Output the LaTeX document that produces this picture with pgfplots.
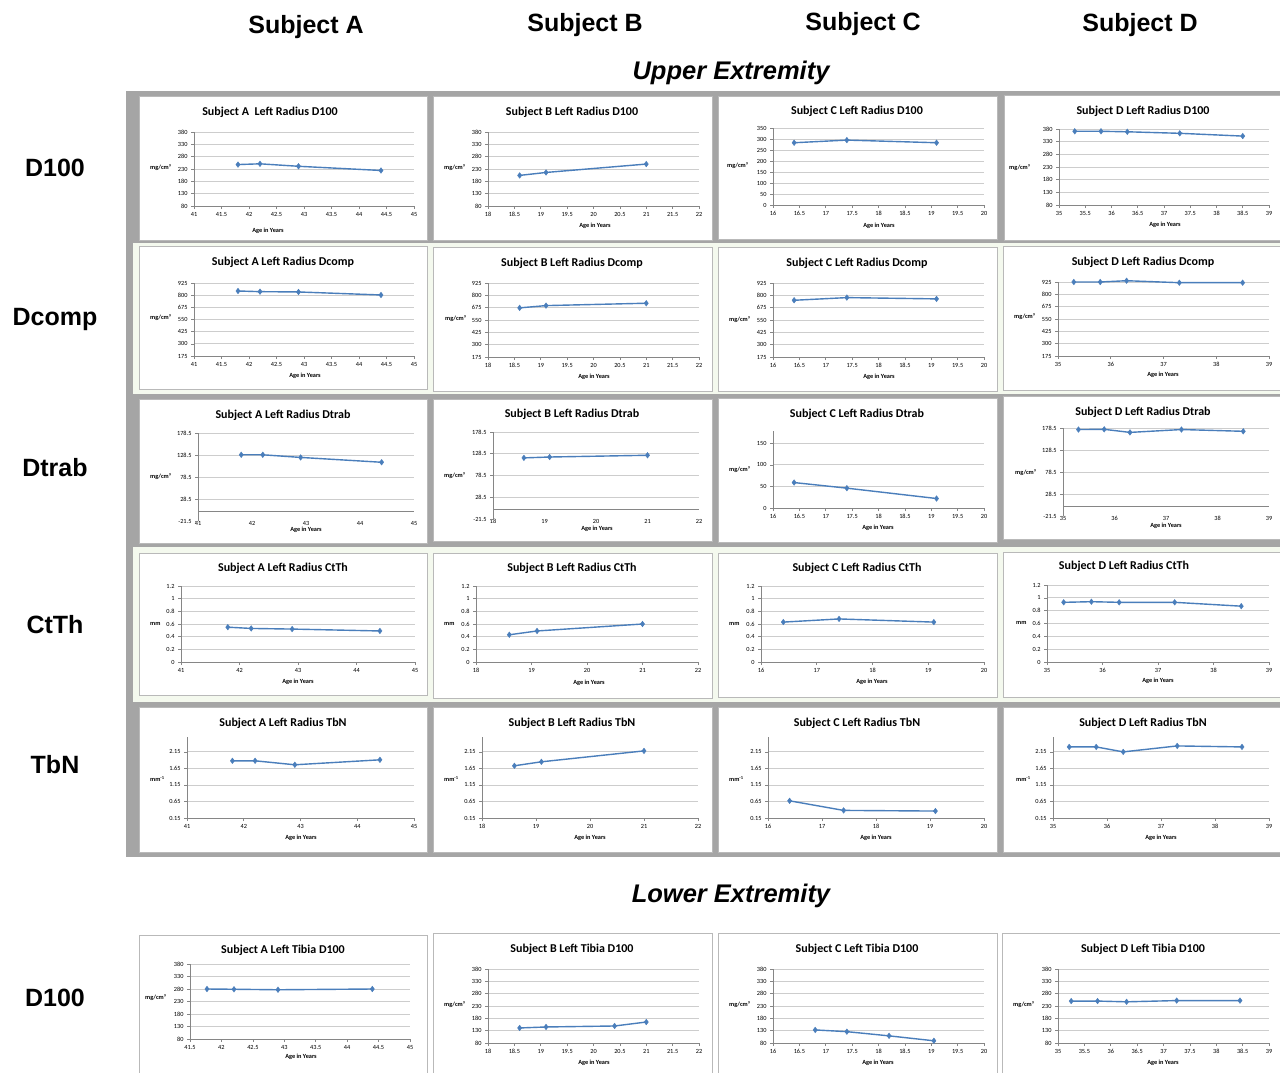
\documentclass[border=0pt]{standalone}
\usepackage{fontspec}
\setmainfont{Liberation Sans}
\newfontfamily\calfont{Carlito}
\usepackage{pgfplots}
\pgfplotsset{compat=1.18}

\definecolor{lineblue}{RGB}{74,126,187}
\definecolor{axisgray}{RGB}{134,134,134}
\definecolor{gridgray}{RGB}{205,205,205}
\definecolor{bggray}{RGB}{165,165,165}
\definecolor{bggreen}{RGB}{244,249,238}
\definecolor{boxgray}{RGB}{185,185,185}

\pgfplotsset{
  pan/.style={
    scale only axis, anchor=south west, clip=false,
    axis lines=left,
    axis line style={-, draw=axisgray, line width=0.8pt},
    ymajorgrids, major grid style={draw=gridgray, line width=0.8pt},
    tick align=outside, major tick length=3pt,
    tick style={draw=axisgray, line width=0.6pt},
    ticklabel style={font=\calfont\fontsize{6.3}{7}\selectfont},
    /pgf/number format/assume math mode=true,
    /pgf/number format/fixed,
    /pgf/number format/precision=2,
    scaled ticks=false,
  },
  dat/.style={lineblue, line width=1.4pt, mark=diamond*, mark size=2.8pt,
    mark options={fill=lineblue, draw=lineblue, line width=0.4pt}},
  yd100/.style={ymin=80,ymax=380,ytick={80,130,180,230,280,330,380}},
  ydcomp/.style={ymin=175,ymax=925,ytick={175,300,425,550,675,800,925}},
  ydtrab/.style={ymin=-21.5,ymax=178.5,ytick={28.5,78.5,128.5,178.5},
    extra y ticks={-21.5}, extra y tick style={grid=none},
    x axis line style={draw=none}, xtick style={draw=none},
    x tick label style={yshift=6pt}},
  yctth/.style={ymin=0,ymax=1.2,ytick={0,0.2,0.4,0.6,0.8,1,1.2}},
  ytbn/.style={ymin=0.15,ymax=2.6,ytick={0.15,0.65,1.15,1.65,2.15}},
  xAh/.style={xmin=41,xmax=45,xtick={41,41.5,42,42.5,43,43.5,44,44.5,45}},
  xBh/.style={xmin=18,xmax=22,xtick={18,18.5,19,19.5,20,20.5,21,21.5,22}},
  xCh/.style={xmin=16,xmax=20,xtick={16,16.5,17,17.5,18,18.5,19,19.5,20}},
  xDh/.style={xmin=35,xmax=39,xtick={35,35.5,36,36.5,37,37.5,38,38.5,39}},
  xA1/.style={xmin=41,xmax=45,xtick={41,42,43,44,45}},
  xB1/.style={xmin=18,xmax=22,xtick={18,19,20,21,22}},
  xC1/.style={xmin=16,xmax=20,xtick={16,17,18,19,20}},
  xD1/.style={xmin=35,xmax=39,xtick={35,36,37,38,39}},
}

% #1 left #2 top #3 right #4 bottom (pixels), #5 options, #6 data, #7 extra plots
\newcommand{\pax}[7]{%
  \pgfmathsetmacro\pw{#3-#1}%
  \pgfmathsetmacro\ph{#4-#2}%
  \begin{axis}[pan, at={(#1pt,-#4pt)}, width=\pw pt, height=\ph pt, #5]
  #7
  \addplot[dat] coordinates {#6};
  \end{axis}}
\newcommand{\pbox}[4]{\draw[boxgray, fill=white, line width=1pt] (#1pt,-#2pt) rectangle (#3pt,-#4pt);}
\newcommand{\ttl}[3]{\node[font=\calfont\bfseries\fontsize{12}{14}\selectfont] at (#1pt,-#2pt) {#3};}
\newcommand{\ylab}[3]{\node[anchor=west, inner sep=0pt, font=\calfont\bfseries\fontsize{6.3}{7}\selectfont] at (#1pt,-#2pt) {#3};}
\newcommand{\xlab}[2]{\node[inner sep=0pt, font=\calfont\bfseries\fontsize{6.3}{7}\selectfont] at (#1pt,-#2pt) {Age in Years};}
\newcommand{\zl}[2]{\addplot[axisgray, line width=0.8pt, forget plot, mark=none] coordinates {(#1,0) (#2,0)};}

\begin{document}
\begin{tikzpicture}
\useasboundingbox (0pt,0pt) rectangle (1280pt,-1073pt);
\fill[white] (0pt,0pt) rectangle (1280pt,-1073pt);
% backgrounds
\fill[bggray] (126pt,-91pt) rectangle (1280pt,-857pt);
\fill[bggreen] (133pt,-243pt) rectangle (1280pt,-394pt);
\fill[bggreen] (133pt,-547pt) rectangle (1280pt,-702pt);

% headers
\node[font=\bfseries\fontsize{25}{30}\selectfont] at (306pt,-27pt) {Subject A};
\node[font=\bfseries\fontsize{25}{30}\selectfont] at (585pt,-25pt) {Subject B};
\node[font=\bfseries\fontsize{25}{30}\selectfont] at (863pt,-24pt) {Subject C};
\node[font=\bfseries\fontsize{25}{30}\selectfont] at (1140pt,-25pt) {Subject D};
\node[font=\bfseries\itshape\fontsize{25.5}{30}\selectfont] at (731pt,-73pt) {Upper Extremity};
\node[font=\bfseries\itshape\fontsize{25.5}{30}\selectfont] at (731pt,-896pt) {Lower Extremity};
\node[font=\bfseries\fontsize{25}{30}\selectfont] at (55pt,-168pt) {D100};
\node[font=\bfseries\fontsize{25}{30}\selectfont] at (55pt,-319pt) {Dcomp};
\node[font=\bfseries\fontsize{25}{30}\selectfont] at (55pt,-468pt) {Dtrab};
\node[font=\bfseries\fontsize{25}{30}\selectfont] at (55pt,-625pt) {CtTh};
\node[font=\bfseries\fontsize{25}{30}\selectfont] at (55pt,-765pt) {TbN};
\node[font=\bfseries\fontsize{25}{30}\selectfont] at (55pt,-998pt) {D100};

% ---------- Row 1: D100 ----------
\pbox{139}{96}{427}{240}\pbox{433}{96}{712}{240}\pbox{718}{96}{997}{239}\pbox{1004}{95}{1282}{240}
\ttl{270}{112}{Subject A\ \ Left Radius D100}
\ttl{572}{112}{Subject B Left Radius D100}
\ttl{857}{111}{Subject C Left Radius D100}
\ttl{1143}{111}{Subject D Left Radius D100}
\pax{194}{132}{414}{206}{xAh,yd100}{(41.8,248) (42.2,251) (42.9,241) (44.4,224)}{}
\pax{488}{132}{699}{206}{xBh,yd100}{(18.6,204) (19.1,216) (21,250)}{}
\pax{773}{128}{984}{205}{xCh,ymin=0,ymax=350,ytick={0,50,100,150,200,250,300,350}}{(16.4,283) (17.4,295) (19.1,283)}{}
\pax{1059}{129}{1269}{205}{xDh,yd100}{(35.3,371) (35.8,371) (36.3,369) (37.3,363) (38.5,352)}{}
\ylab{150}{168}{mg/cm³}\ylab{444}{168}{mg/cm³}\ylab{727}{166}{mg/cm³}\ylab{1009}{168}{mg/cm³}
\xlab{268}{231}\xlab{595}{226}\xlab{879}{226}\xlab{1165}{225}

% ---------- Row 2: Dcomp ----------
\pbox{139}{246}{427}{389}\pbox{433}{247}{712}{391}\pbox{718}{247}{997}{391}\pbox{1003}{246}{1282}{390}
\ttl{283}{262}{Subject A Left Radius Dcomp}
\ttl{572}{263}{Subject B Left Radius Dcomp}
\ttl{857}{263}{Subject C Left Radius Dcomp}
\ttl{1143}{262}{Subject D Left Radius Dcomp}
\pax{194}{283}{414}{356}{xAh,ydcomp}{(41.8,843) (42.2,836) (42.9,833) (44.4,802)}{}
\pax{488}{283}{699}{357}{xBh,ydcomp}{(18.6,673) (19.1,696) (21,720)}{}
\pax{773}{283}{984}{357}{xCh,ydcomp}{(16.4,750) (17.4,777) (19.1,764)}{}
\pax{1058}{282}{1269}{356}{xD1,ydcomp}{(35.3,925) (35.8,925) (36.3,938) (37.3,918) (38.5,918)}{}
\ylab{150}{318}{mg/cm³}\ylab{445}{319}{mg/cm³}\ylab{729}{320}{mg/cm³}\ylab{1014}{317}{mg/cm³}
\xlab{305}{376}\xlab{594}{377}\xlab{879}{377}\xlab{1163}{375}

% ---------- Row 3: Dtrab ----------
\pbox{139}{399}{427}{543}\pbox{433}{399}{712}{541}\pbox{718}{398}{997}{542}\pbox{1003}{396}{1282}{539}
\ttl{283}{415}{Subject A Left Radius Dtrab}
\ttl{572}{414}{Subject B Left Radius Dtrab}
\ttl{857}{414}{Subject C Left Radius Dtrab}
\ttl{1143}{412}{Subject D Left Radius Dtrab}
\pax{198}{433}{414}{521}{xA1,ydtrab}{(41.8,129) (42.2,129) (42.9,123) (44.4,112)}{\zl{41}{45}}
\pax{493}{432}{699}{519}{xB1,ydtrab}{(18.6,119) (19.1,121) (21,125)}{\zl{18}{22}}
\pax{773}{431}{984}{508}{xCh,ymin=0,ymax=178.5,ytick={0,50,100,150}}{(16.4,59) (17.4,46) (19.1,22)}{}
\pax{1063}{428}{1269}{516}{xD1,ydtrab}{(35.3,175) (35.8,175.5) (36.3,168.5) (37.3,175) (38.5,171)}{\zl{35}{39}}
\ylab{150}{477}{mg/cm³}\ylab{444}{476}{mg/cm³}\ylab{729}{470}{mg/cm³}\ylab{1015}{473}{mg/cm³}
\xlab{306}{530}\xlab{597}{529}\xlab{878}{528}\xlab{1166}{526}

% ---------- Row 4: CtTh ----------
\pbox{139}{553}{427}{695}\pbox{433}{553}{712}{698}\pbox{718}{553}{997}{697}\pbox{1003}{552}{1282}{697}
\ttl{283}{568}{Subject A Left Radius CtTh}
\ttl{572}{568}{Subject B Left Radius CtTh}
\ttl{857}{568}{Subject C Left Radius CtTh}
\ttl{1124}{566}{Subject D Left Radius CtTh}
\pax{181}{586}{415}{662}{xA1,yctth}{(41.8,0.55) (42.2,0.53) (42.9,0.52) (44.4,0.49)}{}
\pax{476}{586}{698}{662}{xB1,yctth}{(18.6,0.43) (19.1,0.49) (21,0.60)}{}
\pax{761}{586}{984}{662}{xC1,yctth}{(16.4,0.63) (17.4,0.68) (19.1,0.63)}{}
\pax{1047}{585}{1269}{662}{xD1,yctth}{(35.3,0.93) (35.8,0.94) (36.3,0.93) (37.3,0.93) (38.5,0.87)}{}
\ylab{150}{624}{mm}\ylab{444}{624}{mm}\ylab{729}{624}{mm}\ylab{1016}{623}{mm}
\xlab{298}{682}\xlab{589}{683}\xlab{872}{682}\xlab{1158}{681}

% ---------- Row 5: TbN ----------
\pbox{139}{707}{427}{852}\pbox{433}{707}{712}{852}\pbox{718}{707}{997}{852}\pbox{1003}{707}{1282}{852}
\ttl{283}{723}{Subject A Left Radius TbN}
\ttl{572}{723}{Subject B Left Radius TbN}
\ttl{857}{723}{Subject C Left Radius TbN}
\ttl{1143}{723}{Subject D Left Radius TbN}
\pax{187}{737}{414}{818}{xA1,ytbn}{(41.8,1.88) (42.2,1.88) (42.9,1.76) (44.4,1.91)}{}
\pax{482}{737}{698}{818}{xB1,ytbn}{(18.6,1.73) (19.1,1.85) (21,2.18)}{}
\pax{768}{737}{984}{818}{xC1,ytbn}{(16.4,0.67) (17.4,0.38) (19.1,0.36)}{}
\pax{1053}{737}{1269}{818}{xD1,ytbn}{(35.3,2.30) (35.8,2.30) (36.3,2.15) (37.3,2.33) (38.5,2.30)}{}
\ylab{150}{779}{mm\textsuperscript{-1}}\ylab{444}{779}{mm\textsuperscript{-1}}\ylab{729}{779}{mm\textsuperscript{-1}}\ylab{1016}{779}{mm\textsuperscript{-1}}
\xlab{301}{838}\xlab{590}{838}\xlab{876}{838}\xlab{1161}{838}

% ---------- Row 6: Lower D100 ----------
\pbox{139}{935}{427}{1080}\pbox{433}{933}{712}{1080}\pbox{718}{933}{997}{1080}\pbox{1002}{933}{1282}{1080}
\ttl{283}{950}{Subject A Left Tibia D100}
\ttl{572}{949}{Subject B Left Tibia D100}
\ttl{857}{949}{Subject C Left Tibia D100}
\ttl{1143}{949}{Subject D Left Tibia D100}
\pax{190}{964}{410}{1039}{xmin=41.5,xmax=45,xtick={41.5,42,42.5,43,43.5,44,44.5,45},yd100}{(41.77,280) (42.2,279) (42.9,277) (44.4,280)}{}
\pax{488}{969}{699}{1043}{xBh,yd100}{(18.6,141) (19.1,145) (20.4,149) (21,165)}{}
\pax{773}{969}{984}{1043}{xCh,yd100}{(16.8,133) (17.4,126) (18.2,109) (19.05,89)}{}
\pax{1058}{969}{1269}{1043}{xDh,yd100}{(35.25,250) (35.75,250) (36.3,247) (37.25,252) (38.45,252)}{}
\ylab{145}{998}{mg/cm³}\ylab{444}{1005}{mg/cm³}\ylab{729}{1005}{mg/cm³}\ylab{1013}{1005}{mg/cm³}
\xlab{301}{1057}\xlab{594}{1063}\xlab{878}{1063}\xlab{1163}{1063}
\end{tikzpicture}
\end{document}
